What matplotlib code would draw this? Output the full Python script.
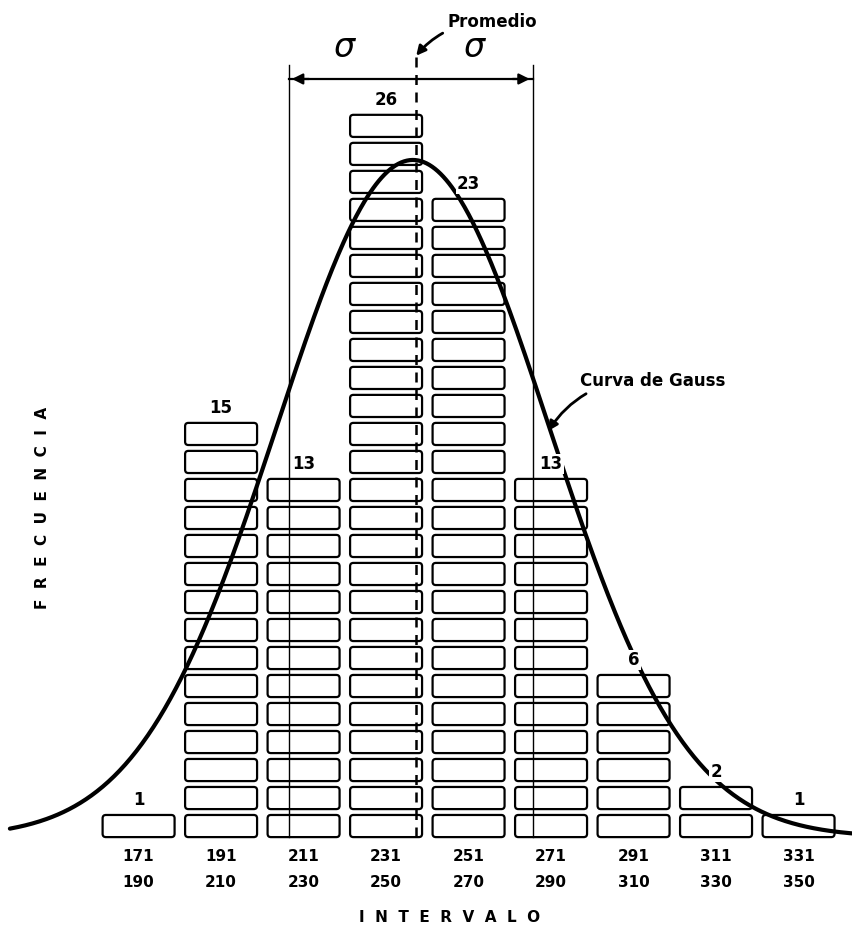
import numpy as np
import matplotlib
matplotlib.use("Agg")
import matplotlib.pyplot as plt
from matplotlib.patches import FancyBboxPatch

# ---- data ----
lower_bounds = [171, 191, 211, 231, 251, 271, 291, 311, 331]
upper_bounds = [190, 210, 230, 250, 270, 290, 310, 330, 350]
frequencies = [1, 15, 13, 26, 23, 13, 6, 2, 1]
bin_width = 20
gauss_mean = 247.0
gauss_sigma = 33.0
sigma_marks = [217.0, 276.0]   # drawn sigma lines
mean_mark = 247.8              # drawn "Promedio" line

centers = [(lo + hi) / 2 for lo, hi in zip(lower_bounds, upper_bounds)]
total = sum(frequencies)

fig = plt.figure(figsize=(8.53, 9.27), dpi=100)
ax = fig.add_axes([0, 0, 1, 1])
ax.set_xlim(146.9, 353.7)
ax.set_ylim(-3.21, 29.89)
ax.axis("off")

# px-per-unit ratios for rounded boxes
px_x = 853 / (353.7 - 146.9)
px_y = 927 / (29.89 + 3.21)
aspect = px_x / px_y

box_w = 17.45
box_h = 0.79
for c, n in zip(centers, frequencies):
    for i in range(n):
        p = FancyBboxPatch((c - box_w / 2, i), box_w, box_h,
                           boxstyle="round,pad=0,rounding_size=0.8",
                           mutation_aspect=aspect,
                           facecolor="white", edgecolor="black",
                           linewidth=1.6, zorder=2)
        ax.add_patch(p)
    ax.text(c, n + 0.32, str(n), ha="center", va="center", fontsize=12,
            fontweight="bold", zorder=6,
            bbox=dict(facecolor="white", edgecolor="none", pad=1.0))

# Gauss curve
xs = np.linspace(149.3, 353.7, 600)
amp = total * bin_width / (gauss_sigma * np.sqrt(2 * np.pi))
ys = amp * np.exp(-0.5 * ((xs - gauss_mean) / gauss_sigma) ** 2)
ax.plot(xs, ys, color="black", linewidth=3.0, zorder=5, solid_capstyle="round")

# sigma lines and mean line
for s in sigma_marks:
    ax.plot([s, s], [0, 27.57], color="black", linewidth=1.0, zorder=3)
ax.plot([mean_mark, mean_mark], [0, 27.86], color="black", linewidth=1.8,
        linestyle=(0, (4, 3)), zorder=3)

# dimension line with arrows
ax.plot([sigma_marks[0], sigma_marks[1]], [27.07, 27.07], color="black",
        linewidth=1.6, zorder=3)
for s, d in [(sigma_marks[0], 1), (sigma_marks[1], -1)]:
    ax.annotate("", xy=(s, 27.07), xytext=(s + d * 5.5, 27.07),
                arrowprops=dict(arrowstyle="-|>", color="black", lw=1.6,
                                mutation_scale=16))
ax.text(230.6, 28.2, r"$\sigma$", fontsize=24, ha="center", va="center")
ax.text(262.1, 28.2, r"$\sigma$", fontsize=24, ha="center", va="center")

# Promedio
ax.annotate("Promedio", xy=(mean_mark, 27.9), xytext=(255.5, 29.1),
            fontsize=12, fontweight="bold", ha="left", va="center",
            arrowprops=dict(arrowstyle="-|>", color="black", lw=2.0,
                            mutation_scale=14,
                            connectionstyle="arc3,rad=0.25",
                            shrinkA=2, shrinkB=0))

# Curva de Gauss
ax.annotate("Curva de Gauss", xy=(279.8, 14.5), xytext=(287.5, 16.3),
            fontsize=12, fontweight="bold", ha="left", va="center",
            arrowprops=dict(arrowstyle="-|>", color="black", lw=2.0,
                            mutation_scale=14,
                            connectionstyle="arc3,rad=0.3",
                            shrinkA=2, shrinkB=0))

# tick labels
for c, lo, hi in zip(centers, lower_bounds, upper_bounds):
    ax.text(c, -0.71, str(lo), ha="center", va="center", fontsize=11,
            fontweight="bold")
    ax.text(c, -1.61, str(hi), ha="center", va="center", fontsize=11,
            fontweight="bold")

ax.text(256, -2.86, "I  N  T  E  R  V  A  L  O", ha="center", va="center",
        fontsize=11, fontweight="bold")
ax.text(157.1, 11.75, "F  R  E  C  U  E  N  C  I  A", ha="center",
        va="center", rotation=90, fontsize=11, fontweight="bold")

fig.savefig("out.png", dpi=100)
